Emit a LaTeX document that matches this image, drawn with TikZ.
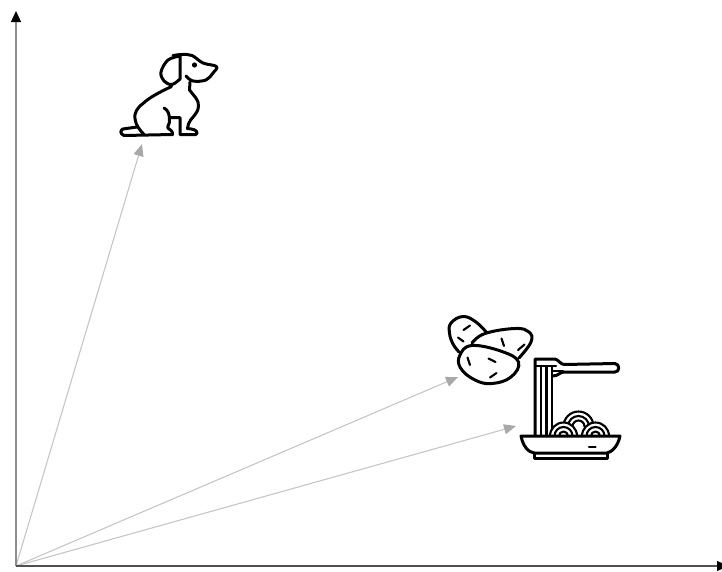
\documentclass[tikz,border=0pt]{standalone}
\usetikzlibrary{arrows.meta}
\definecolor{axisdark}{HTML}{505050}
\definecolor{axisgray}{HTML}{8C8C8C}
\definecolor{vecgray}{HTML}{C6C6C6}
\definecolor{vectip}{HTML}{A8A8A8}
\tikzset{
  axisl/.style={line width=1.3pt, arrows={-{Triangle[length=11pt, width=10pt, color=black]}}},
  vecl/.style={-{Triangle[length=12pt, width=10pt, color=vectip]}, line width=1.1pt, draw=vecgray},
  icon/.style={line width=3pt, draw=black, line cap=round, line join=round},
  iconthin/.style={line width=2.1pt, draw=black, line cap=round, line join=round},
}

\begin{document}
\begin{tikzpicture}[x=1pt, y=-1pt]
    \useasboundingbox (0,0) rectangle (722,571);
    \coordinate (origin) at (16,566);
    \coordinate (ytop) at (16,11);
    \coordinate (xend) at (728,566);
    \coordinate (dogvec) at (142,144);
    \coordinate (potatovec) at (458,377);
    \coordinate (pastavec) at (516,426);
    \draw[vecl] (origin) -- (dogvec);
    \draw[vecl] (origin) -- (potatovec);
    \draw[vecl] (origin) -- (pastavec);
    \draw[axisl, draw=axisgray] (origin) -- (ytop);
    \draw[axisl, draw=axisdark] (origin) -- (xend);
    % dog
    \draw[icon] plot[smooth, tension=0.6] coordinates {(180,56) (168,60) (161,72) (164,81) (172,84.5) (180,79)} -- (180,56);
    \draw[icon] plot[smooth, tension=0.6] coordinates {(173,55.5) (182,54.5) (192,55.5) (203,63) (216.5,66.5) (213,73) (206,80) (193,81) (186,76)};
    \draw[icon] (190,82) -- (189.5,90) .. controls (194,96) and (199,100) .. (198.5,106) .. controls (198,115) and (190,118) .. (188.5,124) -- (187.5,128.5) .. controls (193,129) and (197,130) .. (197,133) -- (196,134.5) -- (180,134.5) -- (180,117.5) -- (170,117.5);
    \draw[icon] (164,108) .. controls (168,110) and (169.5,114) .. (169.5,120) .. controls (170,124) and (167,126) .. (168,128) .. controls (170,130) and (173,131) .. (172.5,134.5) -- (124,135.5) .. controls (120,134) and (120,130) .. (123,129) -- (137,127);
    \draw[icon] (171.5,86.5) .. controls (160,92) and (150,97) .. (143,103.5) .. controls (137,108) and (134,113) .. (135,119) .. controls (136,126) and (140,130) .. (144,134.5);
    \fill (194.5,65) circle (2.6pt);
    % potatoes
    \draw[icon] plot[smooth, tension=0.7] coordinates {(487,333) (476,322) (463,316.5) (451,323) (449.5,333) (453,344) (459,352)};
    \draw[icon] plot[smooth, tension=0.7] coordinates {(472,343) (485,333.5) (515,328.5) (529,332) (531,342) (519,358)};
    \draw[icon] plot[smooth cycle, tension=0.7] coordinates {(472,345.5) (460,355) (460.5,368) (475,380) (492,383.5) (511,377) (518.5,362) (502,351.5)};
    \draw[iconthin] (463.5,330) -- (470,325.5) (458,337.5) -- (463.5,341.5) (501.5,338.5) -- (504,346) (518,350) -- (524.5,344.5);
    \draw[iconthin] (467.5,357.5) -- (470,365) (488.5,358.5) -- (495.5,362) (490,377.5) -- (496.5,373);
    % pasta
    \draw[icon] (535,436) -- (535,359) -- (555,359) .. controls (559,360) and (560,364) .. (564,364.5) -- (615,363.5) .. controls (620,364) and (620,372) .. (615,372) -- (564,372) .. controls (560,372) and (558,376) .. (553,376);
    \draw[iconthin] (535,366) -- (556,366) (541,366) -- (541,436) (546.5,366) -- (546.5,436) (552,366) -- (552,436);
    \draw[iconthin] (553,371) -- (563,371);
    \foreach \cx/\cy/\rr in {578.5/426.5/15, 563.5/436/13.5, 595.5/436/13.5} {
      \fill[white] (\cx-\rr,\cy) arc[start angle=180, end angle=360, radius=\rr] -- cycle;
      \draw[iconthin] (\cx-\rr,\cy) arc[start angle=180, end angle=360, radius=\rr];
      \draw[iconthin] (\cx-\rr+4.5,\cy) arc[start angle=180, end angle=360, radius=\rr-4.5];
      \draw[iconthin] (\cx-\rr+9,\cy) arc[start angle=180, end angle=360, radius=\rr-9];
    }
    \fill[white] (535,437) rectangle (622,445);
    \draw[icon, fill=white] (521,436) -- (620,436) .. controls (618,446) and (612,452) .. (607,453) -- (534,453) .. controls (528,452) and (523,446) .. (521,436) -- cycle;
    \draw[icon] (534,453) -- (534,458) -- (607.5,458) -- (607.5,453);
    \draw[iconthin] (589,447.3) -- (595.5,447.3);
\end{tikzpicture}
\end{document}
